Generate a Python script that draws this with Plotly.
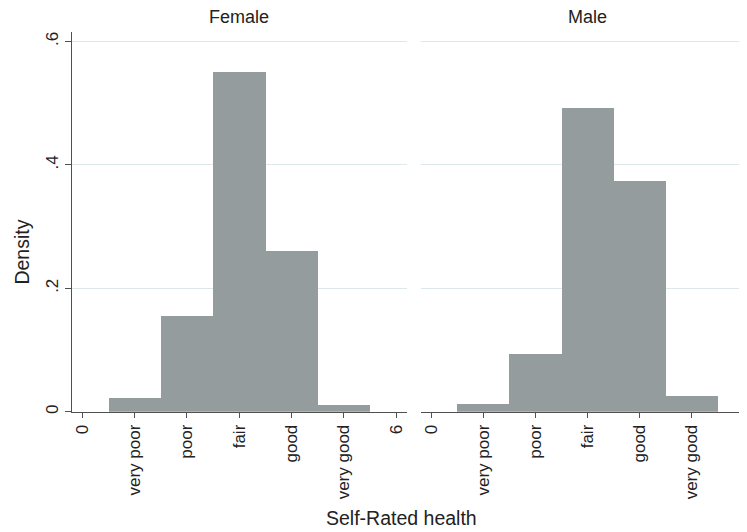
import plotly.graph_objects as go

# ---- data ----
categories = ["very poor", "poor", "fair", "good", "very good"]
cat_pos = [1, 2, 3, 4, 5]
female_density = [0.0226, 0.155, 0.551, 0.261, 0.0123]
male_density = [0.0134, 0.095, 0.493, 0.375, 0.0258]
x_tickvals = [0, 1, 2, 3, 4, 5, 6]
x_ticktext = ["0"] + categories + ["6"]
y_tickvals = [0, 0.2, 0.4, 0.6]
y_ticktext = ["0", ".2", ".4", ".6"]
panel_titles = ["Female", "Male"]

# page body has an 8px default margin; figure is sized to fill the rest
OFF = 8
W, H = 747 - OFF, 532 - OFF
BAR = "#959c9e"
GRID = "#dce8eb"
AX = "#505050"
TXT = "#222222"
FONT = "Liberation Sans, Arial, sans-serif"


def px(v):
    return (v - OFF) / W


def py(v):
    return 1 - (v - OFF) / H


fig = go.Figure()
fig.add_trace(go.Bar(x=cat_pos, y=female_density, width=1, marker=dict(color=BAR, line=dict(width=0)),
                     xaxis="x", yaxis="y", showlegend=False))
fig.add_trace(go.Bar(x=cat_pos, y=male_density, width=1, marker=dict(color=BAR, line=dict(width=0)),
                     xaxis="x2", yaxis="y2", showlegend=False))

x1_dom = [px(71.7), px(406.7)]
x2_dom = [px(420.7), 1.0]
x2_max = -0.2 + (747 - 420.7) / 52.05
y_dom = [py(413.3), py(31.7)]

xcommon = dict(tickmode="array", tickvals=x_tickvals, ticktext=x_ticktext, tickangle=-90,
               showline=True, linecolor=AX, linewidth=1.3, ticks="outside", ticklen=5,
               tickcolor=AX, tickwidth=1.2, showgrid=False, zeroline=False,
               tickfont=dict(family=FONT, size=17, color=TXT))

fig.update_layout(
    width=W, height=H,
    margin=dict(l=0, r=0, t=0, b=0),
    paper_bgcolor="white", plot_bgcolor="white",
    bargap=0,
    xaxis=dict(domain=x1_dom, range=[-0.2, 6.2], anchor="y", **xcommon),
    xaxis2=dict(domain=x2_dom, range=[-0.2, x2_max], anchor="y2", **xcommon),
    yaxis=dict(domain=y_dom, range=[0, 0.616], anchor="x", tickmode="array",
               tickvals=y_tickvals, ticktext=y_ticktext, tickangle=-90,
               showline=True, linecolor=AX, linewidth=1.3, ticks="outside", ticklen=6,
               tickcolor=AX, tickwidth=1.2, showgrid=True, gridcolor=GRID, gridwidth=1,
               zeroline=False, tickfont=dict(family=FONT, size=17, color=TXT)),
    yaxis2=dict(domain=y_dom, range=[0, 0.616], anchor="x2", tickmode="array",
                tickvals=y_tickvals, showticklabels=False, showline=False, ticks="",
                showgrid=True, gridcolor=GRID, gridwidth=1, zeroline=False),
    annotations=[
        dict(text=panel_titles[0], x=px((71.7 + 406.7) / 2), y=py(17), xref="paper", yref="paper",
             showarrow=False, xanchor="center", yanchor="middle",
             font=dict(family=FONT, size=18, color=TXT)),
        dict(text=panel_titles[1], x=px(587.7), y=py(17), xref="paper", yref="paper",
             showarrow=False, xanchor="center", yanchor="middle",
             font=dict(family=FONT, size=18, color=TXT)),
        dict(text="Density", x=px(22.5), y=py(253), xref="paper", yref="paper",
             showarrow=False, xanchor="center", yanchor="middle", textangle=-90,
             font=dict(family=FONT, size=19.5, color=TXT)),
        dict(text="Self-Rated health", x=px(401), y=py(520), xref="paper", yref="paper",
             showarrow=False, xanchor="center", yanchor="middle",
             font=dict(family=FONT, size=19.5, color=TXT)),
    ],
)

fig.write_html("out.html")
